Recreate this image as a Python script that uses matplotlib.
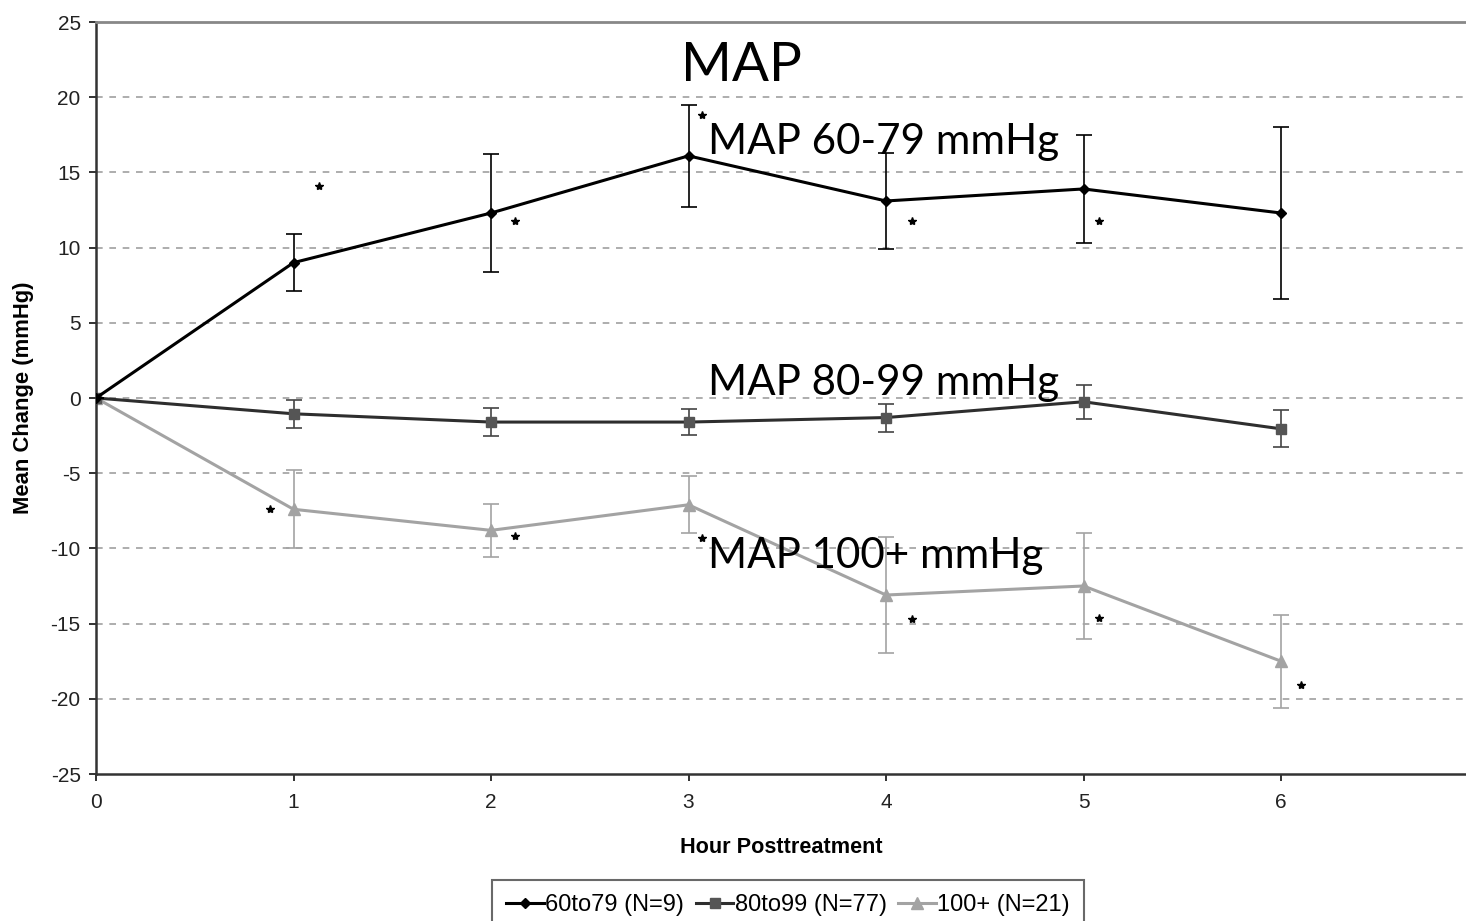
import matplotlib
matplotlib.use('Agg')
import matplotlib.pyplot as plt
from matplotlib.lines import Line2D

# данные (чтение с графика)
hours = [0, 1, 2, 3, 4, 5, 6]

map60 = [0, 9.0, 12.3, 16.1, 13.1, 13.9, 12.3]
map60_err = [0, 1.9, 3.9, 3.4, 3.2, 3.6, 5.75]

map80 = [0, -1.05, -1.6, -1.6, -1.3, -0.25, -2.05]
map80_err = [0, 0.95, 0.95, 0.85, 0.93, 1.13, 1.23]

map100 = [0, -7.4, -8.8, -7.1, -13.1, -12.5, -17.5]
map100_err = [0, 2.6, 1.75, 1.9, 3.85, 3.5, 3.1]

labels = ['60to79 (N=9)', '80to99 (N=77)', '100+ (N=21)']

# звёздочки значимости
star_x = [1.13, 2.12, 3.07, 4.13, 5.08, 0.88, 2.12, 3.07, 4.13, 5.08, 6.1]
star_y = [14.1, 11.8, 18.8, 11.8, 11.8, -7.4, -9.2, -9.3, -14.7, -14.6, -19.1]

# подписи групп
notes = ['MAP', 'MAP 60-79 mmHg', 'MAP 80-99 mmHg', 'MAP 100+ mmHg']
note_x = [2.96, 3.1, 3.1, 3.1]
note_y = [21.1, 16.2, 0.2, -11.3]
note_size = [39.5, 30.3, 30.3, 30.3]

plt.rcParams['font.family'] = ['Liberation Sans', 'DejaVu Sans']
plt.rcParams['axes.unicode_minus'] = False

W, H = 1466, 921
fig = plt.figure(figsize=(W / 100, H / 100), dpi=100)
ax = fig.add_axes([96 / W, 147 / H, (W - 96) / W, 752 / H])

ax.errorbar(hours, map60, yerr=map60_err, color='black', lw=2.2,
            marker='D', ms=5, capsize=6, elinewidth=1.2, capthick=1.2, zorder=4)
ax.errorbar(hours, map80, yerr=map80_err, color='#2e2e2e', lw=2.2,
            marker='s', ms=7, mfc='#555555', mec='#555555', ecolor='#444444',
            capsize=6, elinewidth=1.2, capthick=1.2, zorder=3)
ax.errorbar(hours, map100, yerr=map100_err, color='#a3a3a3', lw=2.2,
            marker='^', ms=8, capsize=6, elinewidth=1.2, capthick=1.2, zorder=2)

ax.plot(star_x, star_y, ls='none', marker='*', ms=6, color='black', zorder=5)

for t, x, y, s in zip(notes, note_x, note_y, note_size):
    ax.text(x, y, t, fontsize=s, family=['Lato', 'DejaVu Sans'],
            ha='left', va='baseline', color='black', zorder=6)

ax.set_xlim(0, (W - 96) / 197.5)
ax.set_ylim(-25, 25)
ax.set_xticks(range(0, 7))
ax.set_yticks(range(-25, 26, 5))
ax.tick_params(axis='both', labelsize=15, colors='#222222', length=5,
               width=1.3, direction='out')
ax.tick_params(axis='y', pad=6)
ax.tick_params(axis='x', pad=9)

for v in range(-20, 25, 5):
    ax.axhline(v, color='#a0a0a0', lw=1.2, ls=(0, (4, 4)), zorder=1)

ax.spines['right'].set_visible(False)
ax.spines['top'].set_color('#888888')
ax.spines['top'].set_linewidth(2)
ax.spines['left'].set_color('#333333')
ax.spines['left'].set_linewidth(1.8)
ax.spines['bottom'].set_color('#333333')
ax.spines['bottom'].set_linewidth(1.8)

ax.set_xlabel('Hour Posttreatment', fontsize=15.6, fontweight='bold', labelpad=18)
ax.set_ylabel('Mean Change (mmHg)', fontsize=15.8, fontweight='bold', labelpad=12)

handles = [
    Line2D([], [], color='black', lw=2.2, marker='D', ms=5),
    Line2D([], [], color='#2e2e2e', lw=2.2, marker='s', ms=7,
           mfc='#555555', mec='#555555'),
    Line2D([], [], color='#a3a3a3', lw=2.2, marker='^', ms=8),
]
leg = fig.legend(handles, labels, loc='upper center',
                 bbox_to_anchor=(788 / W, 1 - 880 / H),
                 ncol=3, fontsize=17, frameon=True, fancybox=False,
                 edgecolor='#444444', borderaxespad=0, handlelength=1.6,
                 handletextpad=0.05, columnspacing=0.5, borderpad=0.6)
leg.get_frame().set_linewidth(1.5)

fig.savefig('out.png', dpi=100)
